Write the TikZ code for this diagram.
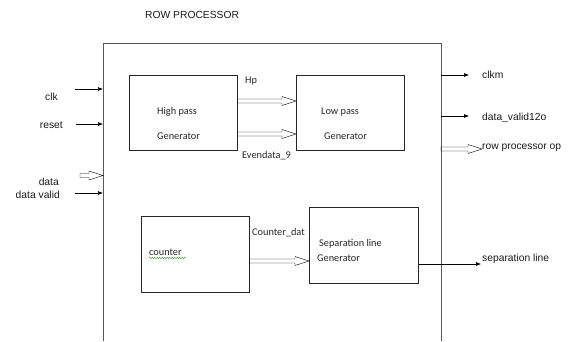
\documentclass[tikz,border=0pt]{standalone}
\usepackage{fontspec}
\setmainfont{Liberation Sans}
\newfontfamily\boxfont{Carlito}
\usetikzlibrary{calc,arrows.meta,decorations.pathmorphing}
\tikzset{
  blk/.style={draw=black!85, line width=0.7pt, minimum width=108pt, minimum height=75pt, anchor=north west, inner sep=0pt},
  lbl/.style={font=\fontsize{10.3}{12}\selectfont, inner sep=0pt, text=black!90},
  btxt/.style={font=\boxfont\fontsize{10.3}{12}\selectfont, inner sep=0pt, text=black!85, anchor=base west},
  sig/.style={draw=black, line width=0.6pt, -{Latex[length=5pt,width=4pt]}},
  hollow/.style={draw=black!85, fill=white, line width=0.8pt,
    to path={let \p1=(\tikztostart), \p2=(\tikztotarget) in
      (\x1,{\y1+2pt}) -- ({\x2-14pt},{\y1+2pt}) -- ({\x2-14pt},{\y1+4.5pt}) -- (\x2,\y1)
      -- ({\x2-14pt},{\y1-4.5pt}) -- ({\x2-14pt},{\y1-2pt}) -- (\x1,{\y1-2pt}) -- cycle}},
}
\begin{document}
\begin{tikzpicture}[x=1pt,y=-1pt]
\useasboundingbox (0,0) rectangle (574,341);
% outer box (cut at bottom)
\coordinate (L) at (103,43);
\coordinate (R) at (441,43);
\draw[black!65, line width=0.9pt] (103,341) -- (L) -- (R) -- (441,341);
\node[lbl, anchor=base west] (title) at (145,18) {ROW PROCESSOR};

% inner blocks
\node[blk] (hp) at (129,75) {};
\node[blk] (lp) at (296,75) {};
\node[blk, minimum height=76pt] (cnt) at (141,216) {};
\node[blk, minimum width=109pt, minimum height=76pt] (sep) at (309,207) {};

\node[btxt] (hpt1) at (157,114) {High pass};
\node[btxt] (hpt2) at (157,139) {Generator};
\node[btxt] (lpt1) at (321,114) {Low pass};
\node[btxt] (lpt2) at (324,139) {Generator};
\node[btxt] (cntt) at (149,255) {counter};
\draw[green!60!black, line width=0.4pt, decorate, decoration={snake, amplitude=0.6pt, segment length=2.5pt}] (cntt.base west) ++(0,3) -- ++(37,0);
\node[btxt] (sept1) at (319,246) {Separation line};
\node[btxt] (sept2) at (317,261) {Generator};

% internal labels
\node[btxt] (hplbl) at (245,83) {Hp};
\node[btxt] (evlbl) at (242,158) {Evendata\_9};
\node[btxt] (cdlbl) at (252,235) {Counter\_dat};

% internal connectors
\draw (hp.east |- 0,101) to[hollow] (lp.west |- 0,101);
\draw (hp.east |- 0,134) to[hollow] (lp.west |- 0,134);
\draw (cnt.east |- 0,261) to[hollow] (sep.west |- 0,261);

% inputs
\node[lbl, anchor=base east] (clk) at (58,100) {clk};
\node[lbl, anchor=base east] (reset) at (63,128) {reset};
\node[lbl, anchor=base east] (data) at (59,185) {data};
\node[lbl, anchor=base east] (dv) at (60,198) {data valid};
\coordinate (clkin) at (75,89);
\coordinate (rstin) at (76,124);
\coordinate (datain) at (80,175.5);
\coordinate (dvin) at (75,193);
\draw[sig] (clkin) -- (clkin -| L);
\draw[sig] (rstin) -- (rstin -| L);
\draw (datain) to[hollow] (datain -| L);
\draw[sig] (dvin) -- (dvin -| L);

% outputs
\node[lbl, anchor=base west] (clkm) at (482,78) {clkm};
\node[lbl, anchor=base west] (dvo) at (482,120) {data\_valid12o};
\node[lbl, anchor=base west] (rpo) at (482,149) {row processor op};
\node[lbl, anchor=base west] (sepl) at (482,261) {separation line};
\coordinate (clkmend) at (469,75);
\coordinate (dvoend) at (469,116);
\coordinate (rpoend) at (482,149);
\draw[sig] (clkmend -| R) -- (clkmend);
\draw[sig] (dvoend -| R) -- (dvoend);
\draw (rpoend -| R) to[hollow] (rpoend);
\coordinate (sepend) at (481,264);
\draw[sig] (sep.east |- sepend) -- (sepend);
\end{tikzpicture}
\end{document}
